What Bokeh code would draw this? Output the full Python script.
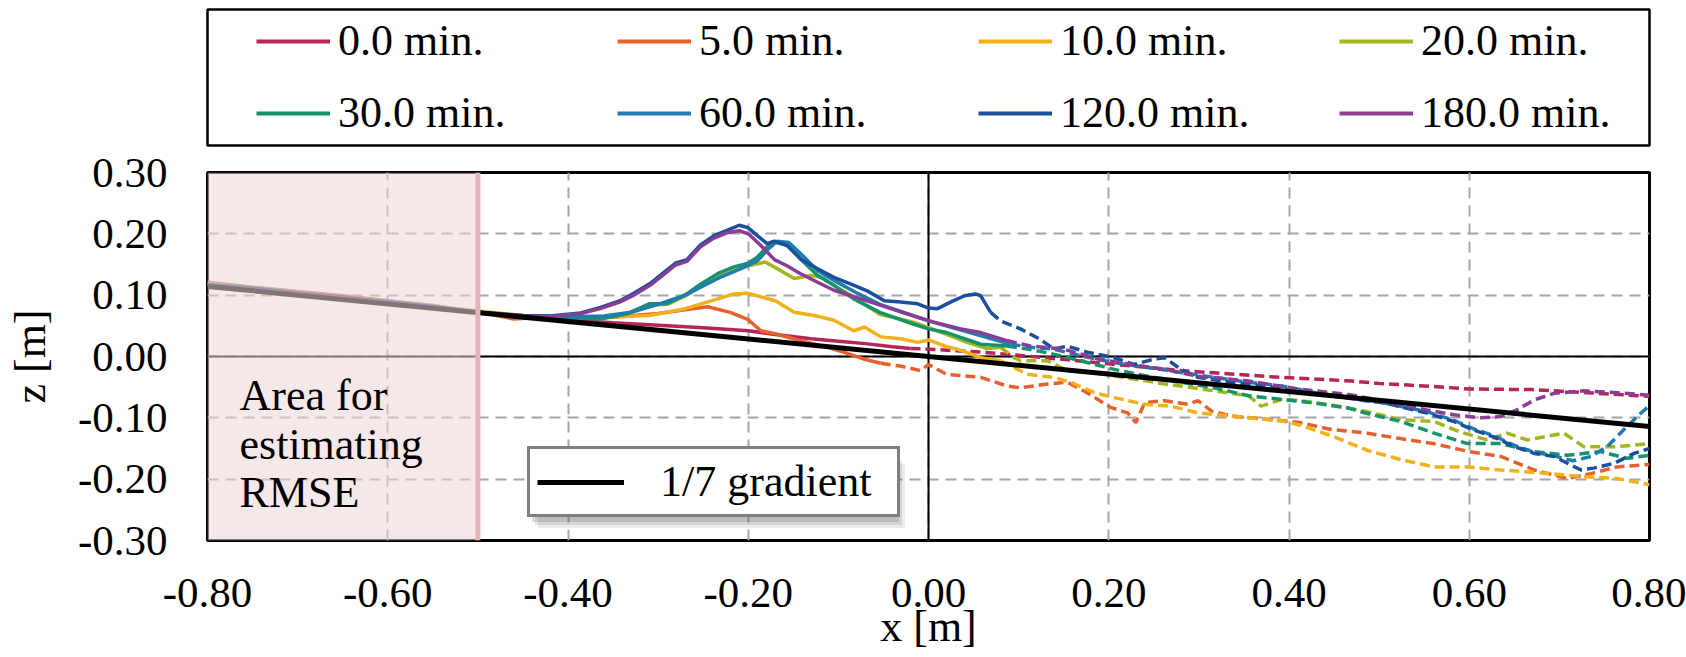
from bokeh.plotting import figure
from bokeh.models import (Range1d, FixedTicker, PrintfTickFormatter, Legend, LegendItem,
                          Span, BoxAnnotation, Label)
from bokeh.layouts import column
from bokeh.embed import file_html
from bokeh.resources import INLINE

FONT = "Liberation Serif"

# ---------------- data ----------------
LABELS = ["0.0 min.", "5.0 min.", "10.0 min.", "20.0 min.",
          "30.0 min.", "60.0 min.", "120.0 min.", "180.0 min."]
COLORS = ["#b8235a", "#e8612c", "#f2b01c", "#a5b51f",
          "#17936b", "#1f7bb0", "#1a4f9e", "#8b3c95"]

BASE_X = [-0.80, -0.75, -0.70, -0.65, -0.60, -0.55, -0.50, -0.45]

# 0.0 min
X0_SOLID = BASE_X + [-0.40, -0.35, -0.30, -0.25, -0.20, -0.17, -0.13, -0.10, -0.07, -0.04, -0.02]
Z0_SOLID = [0.116, 0.110, 0.103, 0.096, 0.089, 0.081, 0.072, 0.066,
            0.060, 0.055, 0.051, 0.047, 0.042, 0.036, 0.029, 0.025, 0.021, 0.016, 0.013]
X0_DASH = [-0.02, 0.00, 0.06, 0.13, 0.20, 0.28, 0.32, 0.39, 0.47, 0.50, 0.55, 0.60, 0.67, 0.73, 0.80]
Z0_DASH = [0.013, 0.012, 0.007, -0.002, -0.012, -0.023, -0.027, -0.034, -0.040, -0.044,
           -0.048, -0.053, -0.054, -0.059, -0.065]

# 5.0 min
X5_SOLID = [-0.80, -0.75, -0.70, -0.65, -0.60, -0.55, -0.50, -0.46, -0.43, -0.40, -0.35, -0.30,
            -0.27, -0.245, -0.22, -0.20, -0.186, -0.17, -0.145, -0.11, -0.09, -0.07, -0.053]
Z5_SOLID = [0.121, 0.113, 0.106, 0.099, 0.091, 0.083, 0.073, 0.061, 0.064, 0.063, 0.064, 0.070,
            0.076, 0.081, 0.072, 0.060, 0.042, 0.037, 0.027, 0.014, 0.005, -0.005, -0.011]
X5_DASH = [-0.053, -0.03, -0.009, 0.0, 0.02, 0.058, 0.087, 0.102, 0.132, 0.154, 0.176, 0.202,
           0.221, 0.23, 0.24, 0.262, 0.288, 0.299, 0.314, 0.336, 0.373, 0.41, 0.447, 0.487,
           0.52, 0.56, 0.6, 0.635, 0.672, 0.709, 0.735, 0.764, 0.8]
Z5_DASH = [-0.011, -0.016, -0.023, -0.013, -0.029, -0.034, -0.048, -0.051, -0.045, -0.042,
           -0.059, -0.083, -0.092, -0.108, -0.075, -0.072, -0.078, -0.072, -0.089, -0.097,
           -0.102, -0.107, -0.119, -0.125, -0.133, -0.142, -0.155, -0.163, -0.185, -0.199,
           -0.191, -0.180, -0.176]

# 10.0 min
X10_SOLID = BASE_X + [-0.40, -0.364, -0.31, -0.27, -0.24, -0.216, -0.20, -0.17, -0.149, -0.127,
                      -0.105, -0.083, -0.071, -0.053, -0.031, -0.012, 0.0, 0.02, 0.032, 0.058, 0.08]
Z10_SOLID = [0.119, 0.112, 0.105, 0.097, 0.090, 0.082, 0.074, 0.067,
             0.064, 0.064, 0.067, 0.078, 0.091, 0.102, 0.103, 0.091, 0.072, 0.067,
             0.059, 0.042, 0.048, 0.032, 0.029, 0.023, 0.027, 0.016, 0.012, -0.002, -0.007]
X10_DASH = [0.08, 0.11, 0.139, 0.158, 0.184, 0.206, 0.24, 0.269, 0.299, 0.336, 0.392, 0.413,
            0.45, 0.487, 0.524, 0.561, 0.598, 0.635, 0.69, 0.727, 0.764, 0.8]
Z10_DASH = [-0.007, -0.029, -0.034, -0.042, -0.059, -0.067, -0.078, -0.081, -0.092, -0.097,
            -0.105, -0.112, -0.131, -0.153, -0.168, -0.18, -0.18, -0.185, -0.191, -0.196,
            -0.199, -0.209]

# 20.0 min
X20_SOLID = BASE_X + [-0.40, -0.364, -0.334, -0.31, -0.29, -0.268, -0.253, -0.234, -0.216, -0.20,
                      -0.181, -0.164, -0.149, -0.131, -0.118, -0.105, -0.083, -0.054, -0.017,
                      0.0, 0.02, 0.043, 0.065, 0.08]
Z20_SOLID = [0.117, 0.111, 0.104, 0.097, 0.089, 0.081, 0.073, 0.067,
             0.065, 0.062, 0.069, 0.084, 0.085, 0.100, 0.115, 0.130, 0.140, 0.148,
             0.154, 0.140, 0.127, 0.132, 0.129, 0.116, 0.097, 0.069, 0.056,
             0.047, 0.036, 0.023, 0.013, 0.015]
X20_DASH = [0.08, 0.095, 0.102, 0.132, 0.154, 0.184, 0.206, 0.243, 0.262, 0.28, 0.317, 0.355,
            0.369, 0.392, 0.413, 0.45, 0.487, 0.524, 0.561, 0.59, 0.62, 0.642, 0.664, 0.705,
            0.727, 0.764, 0.8]
Z20_DASH = [0.015, -0.002, -0.007, -0.007, -0.023, -0.026, -0.032, -0.040, -0.045, -0.048,
            -0.056, -0.064, -0.081, -0.070, -0.072, -0.080, -0.090, -0.103, -0.106, -0.123,
            -0.136, -0.125, -0.136, -0.125, -0.147, -0.147, -0.142]

# 30.0 min
X30_SOLID = BASE_X + [-0.40, -0.364, -0.334, -0.31, -0.29, -0.268, -0.253, -0.234, -0.216, -0.20,
                      -0.19, -0.179, -0.17, -0.153, -0.142, -0.123, -0.105, -0.083, -0.054,
                      -0.017, 0.0, 0.02, 0.058, 0.087]
Z30_SOLID = [0.118, 0.112, 0.104, 0.096, 0.090, 0.082, 0.072, 0.066,
             0.064, 0.061, 0.070, 0.086, 0.086, 0.102, 0.118, 0.135, 0.146, 0.152,
             0.162, 0.179, 0.186, 0.181, 0.159, 0.132, 0.116, 0.094, 0.072,
             0.053, 0.045, 0.039, 0.020, 0.017]
X30_DASH = [0.087, 0.11, 0.132, 0.169, 0.206, 0.243, 0.28, 0.317, 0.355, 0.392, 0.429, 0.466,
            0.487, 0.524, 0.561, 0.598, 0.635, 0.672, 0.709, 0.746, 0.775, 0.8]
Z30_DASH = [0.017, 0.012, 0.006, -0.007, -0.021, -0.032, -0.042, -0.051, -0.064, -0.070,
            -0.076, -0.084, -0.093, -0.106, -0.125, -0.142, -0.142, -0.155, -0.161, -0.155,
            -0.166, -0.161]

# 60.0 min
X60_SOLID = BASE_X + [-0.40, -0.36, -0.33, -0.30, -0.27, -0.25, -0.23, -0.21, -0.19, -0.178,
                      -0.168, -0.155, -0.142, -0.123, -0.10, -0.08, -0.054, -0.03, 0.0, 0.039,
                      0.072, 0.091]
Z60_SOLID = [0.117, 0.110, 0.104, 0.096, 0.089, 0.081, 0.072, 0.066,
             0.065, 0.066, 0.072, 0.085, 0.100, 0.115, 0.130, 0.142, 0.156, 0.175,
             0.188, 0.186, 0.168, 0.140, 0.120, 0.104, 0.085, 0.073, 0.058, 0.042,
             0.028, 0.020]
X60_DASH = [0.091, 0.113, 0.139, 0.169, 0.206, 0.243, 0.28, 0.317, 0.355, 0.392, 0.429, 0.466,
            0.503, 0.553, 0.583, 0.605, 0.627, 0.65, 0.672, 0.694, 0.715, 0.735, 0.753, 0.775,
            0.79, 0.8]
Z60_DASH = [0.020, 0.015, 0.012, 0.001, -0.010, -0.018, -0.026, -0.034, -0.042, -0.048,
            -0.059, -0.067, -0.075, -0.090, -0.104, -0.118, -0.129, -0.145, -0.156, -0.162,
            -0.170, -0.163, -0.147, -0.114, -0.093, -0.080]

# 120.0 min
X120_SOLID = BASE_X + [-0.42, -0.386, -0.364, -0.342, -0.327, -0.309, -0.297, -0.281, -0.268,
                       -0.253, -0.238, -0.223, -0.21, -0.20, -0.19, -0.179, -0.171, -0.157,
                       -0.142, -0.123, -0.105, -0.086, -0.068, -0.049, -0.031, -0.012, 0.0,
                       0.01, 0.025, 0.04, 0.052, 0.058, 0.069]
Z120_SOLID = [0.117, 0.111, 0.104, 0.097, 0.089, 0.081, 0.072, 0.067,
              0.066, 0.071, 0.080, 0.091, 0.103, 0.119, 0.133, 0.152, 0.158,
              0.182, 0.197, 0.206, 0.214, 0.210, 0.197, 0.184, 0.188, 0.181,
              0.159, 0.143, 0.129, 0.118, 0.107, 0.091, 0.089, 0.086, 0.079,
              0.078, 0.089, 0.099, 0.102, 0.099, 0.072]
X120_DASH = [0.069, 0.08, 0.102, 0.124, 0.139, 0.154, 0.176, 0.206, 0.228, 0.251, 0.262, 0.28,
             0.299, 0.336, 0.373, 0.41, 0.447, 0.485, 0.503, 0.553, 0.583, 0.605, 0.627, 0.65,
             0.672, 0.694, 0.709, 0.724, 0.738, 0.761, 0.783, 0.8]
Z120_DASH = [0.072, 0.058, 0.045, 0.028, 0.012, 0.017, 0.007, -0.002, -0.013, -0.004, -0.002,
             -0.021, -0.034, -0.042, -0.048, -0.056, -0.064, -0.072, -0.075, -0.092, -0.106,
             -0.120, -0.131, -0.147, -0.158, -0.163, -0.174, -0.185, -0.182, -0.174, -0.158,
             -0.150]

# 180.0 min
X180_SOLID = BASE_X + [-0.42, -0.386, -0.364, -0.342, -0.327, -0.309, -0.297, -0.281, -0.268,
                       -0.253, -0.238, -0.223, -0.21, -0.20, -0.186, -0.171, -0.157, -0.142,
                       -0.123, -0.105, -0.075, -0.046, -0.012, 0.006, 0.036, 0.058, 0.087]
Z180_SOLID = [0.114, 0.109, 0.103, 0.096, 0.088, 0.080, 0.072, 0.066,
              0.065, 0.070, 0.078, 0.089, 0.100, 0.116, 0.130, 0.149, 0.155,
              0.179, 0.193, 0.202, 0.205, 0.200, 0.181, 0.158, 0.148, 0.135,
              0.121, 0.108, 0.094, 0.080, 0.064, 0.056, 0.045, 0.039, 0.026]
X180_DASH = [0.087, 0.113, 0.15, 0.188, 0.225, 0.262, 0.299, 0.355, 0.41, 0.466, 0.503, 0.553,
             0.583, 0.613, 0.635, 0.653, 0.672, 0.694, 0.727, 0.764, 0.8]
Z180_DASH = [0.026, 0.017, 0.012, -0.004, -0.013, -0.021, -0.032, -0.040, -0.053, -0.062,
             -0.072, -0.087, -0.095, -0.100, -0.098, -0.087, -0.071, -0.060, -0.056, -0.059,
             -0.063]

# 1/7 gradient reference line
GRAD_X = [-0.80, 0.80]
GRAD_Z = [0.1143, -0.1143]
GRAD_LABEL = "1/7 gradient"

# RMSE estimation area
RMSE_X0, RMSE_X1 = -0.80, -0.50
RMSE_TEXT = ["Area for", "estimating", "RMSE"]

X_TICKS = [-0.8, -0.6, -0.4, -0.2, 0.0, 0.2, 0.4, 0.6, 0.8]
Y_TICKS = [-0.3, -0.2, -0.1, 0.0, 0.1, 0.2, 0.3]

SOLID = [(X0_SOLID, Z0_SOLID), (X5_SOLID, Z5_SOLID), (X10_SOLID, Z10_SOLID), (X20_SOLID, Z20_SOLID),
         (X30_SOLID, Z30_SOLID), (X60_SOLID, Z60_SOLID), (X120_SOLID, Z120_SOLID), (X180_SOLID, Z180_SOLID)]
DASHED = [(X0_DASH, Z0_DASH), (X5_DASH, Z5_DASH), (X10_DASH, Z10_DASH), (X20_DASH, Z20_DASH),
          (X30_DASH, Z30_DASH), (X60_DASH, Z60_DASH), (X120_DASH, Z120_DASH), (X180_DASH, Z180_DASH)]

# ---------------- main plot ----------------
LEGEND_PANEL_H = 147
p = figure(width=1686, height=657 - LEGEND_PANEL_H, x_range=Range1d(-0.8, 0.8),
           y_range=Range1d(-0.3, 0.3), output_backend="svg", toolbar_location=None,
           min_border_left=207, min_border_right=37, min_border_top=172 - LEGEND_PANEL_H,
           min_border_bottom=117)
p.background_fill_color = "white"
p.border_fill_color = "white"
p.outline_line_color = "black"
p.outline_line_width = 3

for ax, ticks in ((p.xaxis[0], X_TICKS), (p.yaxis[0], Y_TICKS)):
    ax.ticker = FixedTicker(ticks=ticks)
    ax.formatter = PrintfTickFormatter(format="%.2f")
    ax.axis_line_color = None
    ax.major_tick_line_color = None
    ax.minor_tick_line_color = None
    ax.major_label_text_font = FONT
    ax.major_label_text_font_size = "43px"
    ax.major_label_text_color = "black"
    ax.axis_label_text_font = FONT
    ax.axis_label_text_font_size = "44px"
    ax.axis_label_text_font_style = "normal"
    ax.axis_label_text_color = "black"

p.xaxis.axis_label = "x [m]"
p.yaxis.axis_label = "z [m]"
p.xaxis.major_label_standoff = 32
p.xaxis.axis_label_standoff = -8
p.yaxis.major_label_standoff = 34
p.yaxis.axis_label_standoff = 20

p.xgrid.ticker = FixedTicker(ticks=X_TICKS)
p.ygrid.ticker = FixedTicker(ticks=Y_TICKS)
for g in (p.xgrid[0], p.ygrid[0]):
    g.grid_line_color = "#a6a6a6"
    g.grid_line_width = 2
    g.grid_line_dash = "11 7"

p.add_layout(Span(location=0, dimension="width", line_color="black", line_width=2, level="underlay"))
p.add_layout(Span(location=0, dimension="height", line_color="black", line_width=2, level="underlay"))

for (xs, zs), (xd, zd), c in zip(SOLID, DASHED, COLORS):
    p.line(x=xs, y=zs, line_color=c, line_width=3.5)
    p.line(x=xd, y=zd, line_color=c, line_width=3.5, line_dash="10 5")

r_grad = p.line(x=GRAD_X, y=GRAD_Z, line_color="black", line_width=5)

# shaded RMSE area (semi-transparent overlay)
p.add_layout(BoxAnnotation(left=RMSE_X0, right=RMSE_X1, fill_color="#ecd6d6", fill_alpha=0.55,
                           line_alpha=0))
p.add_layout(Span(location=RMSE_X1, dimension="height", line_color="#e6b3b8", line_width=5))

for i, t in enumerate(RMSE_TEXT):
    p.add_layout(Label(x=RMSE_X0, y=145 - 48.5 * i, x_units="data", y_units="screen", x_offset=32,
                       text=t, text_font=FONT, text_font_size="44px", text_color="black",
                       text_baseline="middle", text_align="left"))

# gradient legend with a soft shadow
leg_kw = dict(orientation="vertical", padding=7, glyph_width=87, glyph_height=50,
              label_height=50, label_width=230, label_standoff=36, margin=0,
              label_text_font=FONT, label_text_font_size="44px")
for off, alpha in ((11, 0.12), (8, 0.16), (5, 0.2)):
    r_sh = p.line(x=GRAD_X, y=GRAD_Z, line_alpha=0)
    p.add_layout(Legend(items=[LegendItem(label=" ", renderers=[r_sh])],
                        location=(320 + off, 23 - off), label_text_alpha=0,
                        border_line_alpha=0, background_fill_color="#606060",
                        background_fill_alpha=alpha, **leg_kw))
p.add_layout(Legend(items=[LegendItem(label=GRAD_LABEL, renderers=[r_grad])],
                    location=(320, 23), border_line_color="black", border_line_width=3,
                    background_fill_color="white", background_fill_alpha=1,
                    label_text_color="black", **leg_kw))

# ---------------- legend panel (its frame is the legend box) ----------------
# the series are re-plotted here outside the visible range; only their legend keys show
lf = figure(width=1686, height=LEGEND_PANEL_H, x_range=Range1d(10, 11), y_range=Range1d(10, 11),
            x_axis_type=None, y_axis_type=None, output_backend="svg", toolbar_location=None,
            min_border_left=206, min_border_right=34, min_border_top=9, min_border_bottom=2)
lf.outline_line_color = "black"
lf.outline_line_width = 2.5
lf.background_fill_color = "white"
lf.border_fill_color = "white"

items = []
for (xs, zs), lab, c in zip(SOLID, LABELS, COLORS):
    r = lf.line(x=xs, y=zs, line_color=c, line_width=4)
    items.append(LegendItem(label=lab, renderers=[r]))
lf.add_layout(Legend(items=items, ncols=4, orientation="horizontal", location=(49, 7),
                     padding=0, spacing=21, glyph_width=74, glyph_height=50, label_height=50,
                     label_width=258, label_standoff=8, margin=0, border_line_alpha=0,
                     background_fill_alpha=0, label_text_font=FONT, label_text_font_size="44px",
                     label_text_color="black"))

layout = column(lf, p, spacing=0)
open("out.html", "w").write(file_html(layout, INLINE))
